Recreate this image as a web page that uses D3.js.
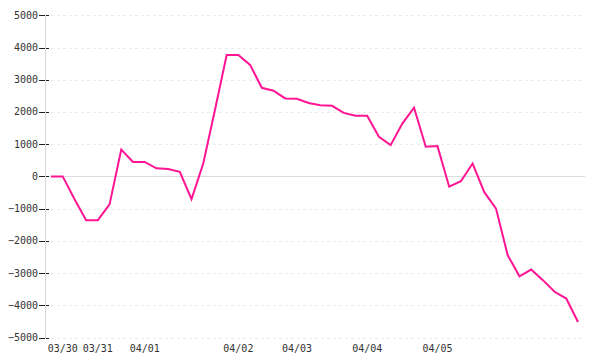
<!DOCTYPE html>
<html>
<head>
<meta charset="utf-8">
<script src="https://cdn.jsdelivr.net/npm/d3@7"></script>
<style>
  body { margin: 0; background: #fff; }
  svg text { font-family: "DejaVu Sans Mono", monospace; font-size: 10px; fill: #333; }
</style>
</head>
<body>
<script>
// values, one per point (46 points)
const values = [
    0, 0, -700, -1360, -1360, -870, 830, 450, 450, 250,
    230, 140, -705, 400, 2060, 3770, 3770, 3460, 2750, 2660,
    2420, 2410, 2280, 2210, 2190, 1970, 1880, 1880, 1230, 970,
    1640, 2130, 920, 940, -320, -150, 400, -490, -1000, -2450,
    -3100, -2890, -3220, -3580, -3790, -4520
];
const tickIdx = [1, 4, 8, 16, 21, 27, 33];
const tickLabels = ["03/30", "03/31", "04/01", "04/02", "04/03", "04/04", "04/05"];
const yTicks = [5000, 4000, 3000, 2000, 1000, 0, -1000, -2000, -3000, -4000, -5000];

const w = 600;
const h = 360;

const svg = d3.select("body")
    .append("svg")
        .attr("width", w)
        .attr("height", h)

const x = d3.scaleLinear().domain([0, values.length - 1]).range([51, 578]);
const y = d3.scaleLinear().domain([-5000, 5000]).range([337.5, 15.3]);

// grid lines (zero line solid, the rest dashed)
svg.append("g")
    .selectAll("line")
    .data(yTicks)
    .enter()
    .append("line")
        .attr("x1", (d) => d == 0 ? 45 : 51)
        .attr("x2", 585)
        .attr("y1", (d) => Math.round(y(d)) + 0.5)
        .attr("y2", (d) => Math.round(y(d)) + 0.5)
        .attr("stroke", (d) => d == 0 ? "#dcdcdc" : "#ebebeb")
        .attr("stroke-dasharray", (d) => d == 0 ? null : "3,3")

// y axis
const yAxis = svg.append("g");
yAxis.append("line")
    .attr("x1", 45.5).attr("x2", 45.5)
    .attr("y1", y(5000)).attr("y2", y(-5000) + 1)
    .attr("stroke", "#d8d8d8")

yAxis.selectAll(".tick")
    .data(yTicks)
    .enter()
    .append("line")
        .attr("x1", 39).attr("x2", 49)
        .attr("y1", (d) => Math.round(y(d)) + 0.5)
        .attr("y2", (d) => Math.round(y(d)) + 0.5)
        .attr("stroke", "#222")
        .attr("stroke-dasharray", "6,1,3")

yAxis.selectAll("text")
    .data(yTicks)
    .enter()
    .append("text")
        .attr("x", 38)
        .attr("y", (d) => y(d))
        .attr("dy", "0.35em")
        .attr("text-anchor", "end")
        .text((d) => d < 0 ? "\u2212" + Math.abs(d) : d)

// x labels
svg.append("g")
    .selectAll("text")
    .data(tickIdx)
    .enter()
    .append("text")
        .attr("x", (d) => x(d))
        .attr("y", 352)
        .attr("text-anchor", "middle")
        .text((d, i) => tickLabels[i])

// the line
const line = d3.line()
    .x((d, i) => x(i))
    .y((d) => y(d));

svg.append("path")
    .datum(values)
    .attr("d", line)
    .attr("fill", "none")
    .attr("stroke", "#ff1493")
    .attr("stroke-width", 2)
    .attr("stroke-linejoin", "miter")
</script>
</body>
</html>
